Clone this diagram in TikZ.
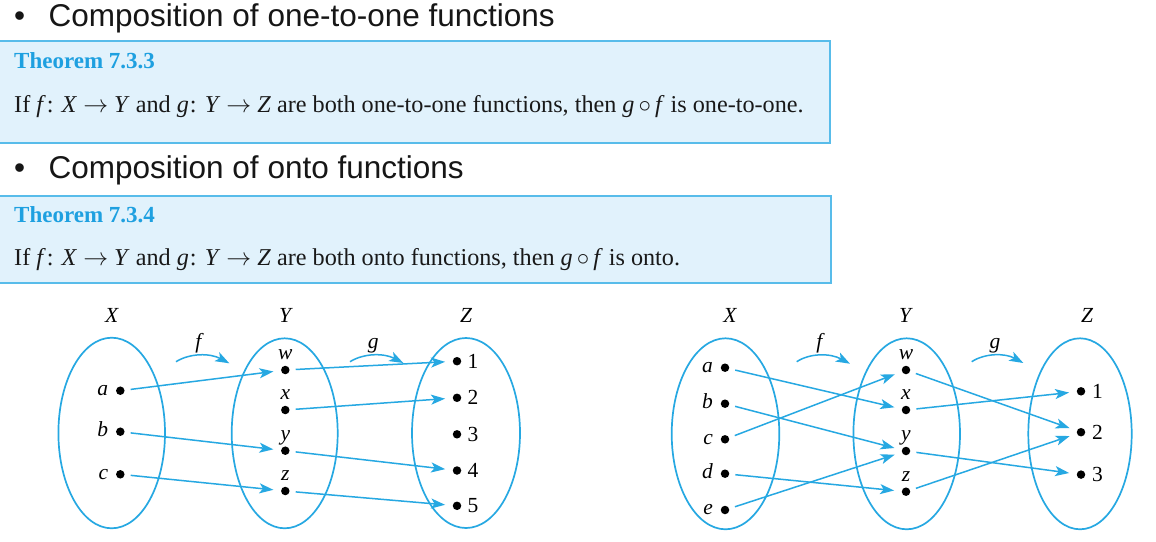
\documentclass[tikz,border=0pt]{standalone}
\usepackage{fontspec}
\setmainfont{Liberation Serif}
\newfontfamily\bulletfont{Liberation Sans}
\usetikzlibrary{arrows.meta,shapes.geometric,calc}
\definecolor{lineblue}{RGB}{38,168,226}
\definecolor{boxfill}{RGB}{225,242,252}
\definecolor{boxline}{RGB}{88,188,234}
\definecolor{titleblue}{RGB}{30,160,224}
\definecolor{bullettext}{RGB}{22,22,22}
\tikzset{
  setov/.style={ellipse, draw=lineblue, line width=1.7pt, inner sep=0pt, minimum width=#1},
  dot/.style={circle, fill=black, inner sep=0pt, minimum size=8.5pt},
  lbl/.style={font=\fontsize{21.5}{25}\selectfont\itshape, inner sep=0pt},
  num/.style={font=\fontsize{21.5}{25}\selectfont, inner sep=0pt},
  maparrow/.style={draw=lineblue, line width=1.5pt, -{Stealth[length=14pt,width=10pt,inset=3.5pt]}, shorten <=6pt, shorten >=7.5pt},
  namearrow/.style={draw=lineblue, line width=1.5pt, -{Stealth[length=14pt,width=10pt,inset=3.5pt]}},
  thmbox/.style={fill=boxfill, draw=boxline, line width=2pt},
  bullettxt/.style={font=\bulletfont\fontsize{31.5}{36}\selectfont, text=bullettext, inner sep=0pt, anchor=base west},
  thmtitle/.style={font=\fontsize{23}{27}\selectfont\bfseries, text=titleblue, inner sep=0pt, anchor=base west},
  thmbody/.style={font=\fontsize{24.2}{28}\selectfont, text=black!90, inner sep=0pt, anchor=base west},
}
\begin{document}
\begin{tikzpicture}[x=1pt,y=-1pt]
\useasboundingbox (0,0) rectangle (1156,541);
\fill[white] (0,0) rectangle (1156,541);

% headings and theorem boxes
\node[bullettxt] (b1) at (14,26) {•};
\node[bullettxt] (h1) at (48.5,26) {Composition of one-to-one functions};
\draw[thmbox] (-5,41) rectangle (830,143);
\node[thmtitle] (t1) at (14,68) {Theorem 7.3.3};
\node[thmbody] (s1) at (14,112) {If \textit{f}\kern1pt: \textit{X} $\rightarrow$ \textit{Y} and \textit{g}\kern1pt: \textit{Y} $\rightarrow$ \textit{Z} are both one-to-one functions, then \textit{g}\,$\circ$\,\textit{f} is one-to-one.};

\node[bullettxt] (b2) at (14,178) {•};
\node[bullettxt] (h2) at (48.5,178) {Composition of onto functions};
\draw[thmbox] (-5,195.5) rectangle (830.5,283);
\node[thmtitle] (t2) at (14,222.7) {Theorem 7.3.4};
\node[thmbody] (s2) at (14,265) {If \textit{f}\kern1pt: \textit{X} $\rightarrow$ \textit{Y} and \textit{g}\kern1pt: \textit{Y} $\rightarrow$ \textit{Z} are both onto functions, then \textit{g}\,$\circ$\,\textit{f} is onto.};

% ---------- left diagram ----------
\node[setov=106.6pt, minimum height=190.6pt] (LX) at (111.7,433) {};
\node[setov=106pt, minimum height=190pt] (LY) at (284.7,433.3) {};
\node[setov=108pt, minimum height=190pt] (LZ) at (466,433) {};
\node[lbl, anchor=base] (LXl) at (111.7,322.5) {X};
\node[lbl, anchor=base] (LYl) at (285,322.5) {Y};
\node[lbl, anchor=base] (LZl) at (466,322.5) {Z};

\foreach \n/\y in {a/390.7,b/431.7,c/474.3}{
  \node[dot] (L\n) at (120.3,\y) {};
  \node[lbl, anchor=base east] at ([xshift=-12pt,yshift=-4.8pt]L\n.center) {\n};
}
\foreach \n/\y in {w/370,x/410,y/450.7,z/491}{
  \node[dot] (L\n) at (285.3,\y) {};
  \node[lbl, anchor=base] at ([yshift=10.5pt]L\n.center) {\n};
}
\foreach \n/\y in {1/361.2,2/397.8,3/434.3,4/470.5,5/505.8}{
  \node[dot] (L\n) at (457,\y) {};
  \node[num, anchor=base west] at ([xshift=10.5pt,yshift=-7pt]L\n.center) {\n};
}
\draw[maparrow] (La) -- (Lw);
\draw[maparrow] (Lb) -- (Ly);
\draw[maparrow] (Lc) -- (Lz);
\draw[maparrow] (Lw) -- (L1);
\draw[maparrow] (Lx) -- (L2);
\draw[maparrow] (Ly) -- (L4);
\draw[maparrow] (Lz) -- (L5);

\coordinate (Lfs) at (176,361.7);
\coordinate (Lfe) at (229.3,363.3);
\coordinate (Lgs) at (350,361.7);
\coordinate (Lge) at (403.3,363);
\draw[namearrow] (Lfs) .. controls (190,353) and (210,353) .. (Lfe);
\draw[namearrow] (Lgs) .. controls (364,353) and (384,353) .. (Lge);
\node[lbl, anchor=base] (Lf) at (198.3,348) {f};
\node[lbl, anchor=base] (Lg) at (373.3,348) {g};

% ---------- right diagram ----------
\node[setov=107.6pt, minimum height=191pt] (RX) at (725.5,433.8) {};
\node[setov=106.6pt, minimum height=191pt] (RY) at (906.7,433.8) {};
\node[setov=103.4pt, minimum height=191pt] (RZ) at (1080,433.8) {};
\node[lbl, anchor=base] (RXl) at (730,322.5) {X};
\node[lbl, anchor=base] (RYl) at (905,322.5) {Y};
\node[lbl, anchor=base] (RZl) at (1087,322.5) {Z};

\foreach \n/\y in {a/367.7,b/403.7,c/439.3,d/473.7,e/510}{
  \node[dot] (R\n) at (725,\y) {};
  \node[lbl, anchor=base east] at ([xshift=-12pt,yshift=-4.8pt]R\n.center) {\n};
}
\foreach \n/\y in {w/370,x/410,y/451,z/491.7}{
  \node[dot] (R\n) at (906,\y) {};
  \node[lbl, anchor=base] at ([yshift=10.5pt]R\n.center) {\n};
}
\foreach \n/\y in {1/391.3,2/432.2,3/474.6}{
  \node[dot] (R\n) at (1081,\y) {};
  \node[num, anchor=base west] at ([xshift=11pt,yshift=-7pt]R\n.center) {\n};
}
\draw[maparrow] (Ra) -- (Rx);
\draw[maparrow] (Rb) -- (Ry);
\draw[maparrow] (Rc) -- (Rw);
\draw[maparrow] (Rd) -- (Rz);
\draw[maparrow] (Re) -- (Ry);
\draw[maparrow] (Rw) -- (R2);
\draw[maparrow] (Rx) -- (R1);
\draw[maparrow] (Ry) -- (R3);
\draw[maparrow] (Rz) -- (R2);

\coordinate (Rfs) at (796.7,361.7);
\coordinate (Rfe) at (850,363.7);
\coordinate (Rgs) at (971.7,361.7);
\coordinate (Rge) at (1023.3,363);
\draw[namearrow] (Rfs) .. controls (810,353) and (830,353) .. (Rfe);
\draw[namearrow] (Rgs) .. controls (985,353) and (1005,353) .. (Rge);
\node[lbl, anchor=base] (Rf) at (819.3,348) {f};
\node[lbl, anchor=base] (Rg) at (995,348) {g};
\end{tikzpicture}
\end{document}
